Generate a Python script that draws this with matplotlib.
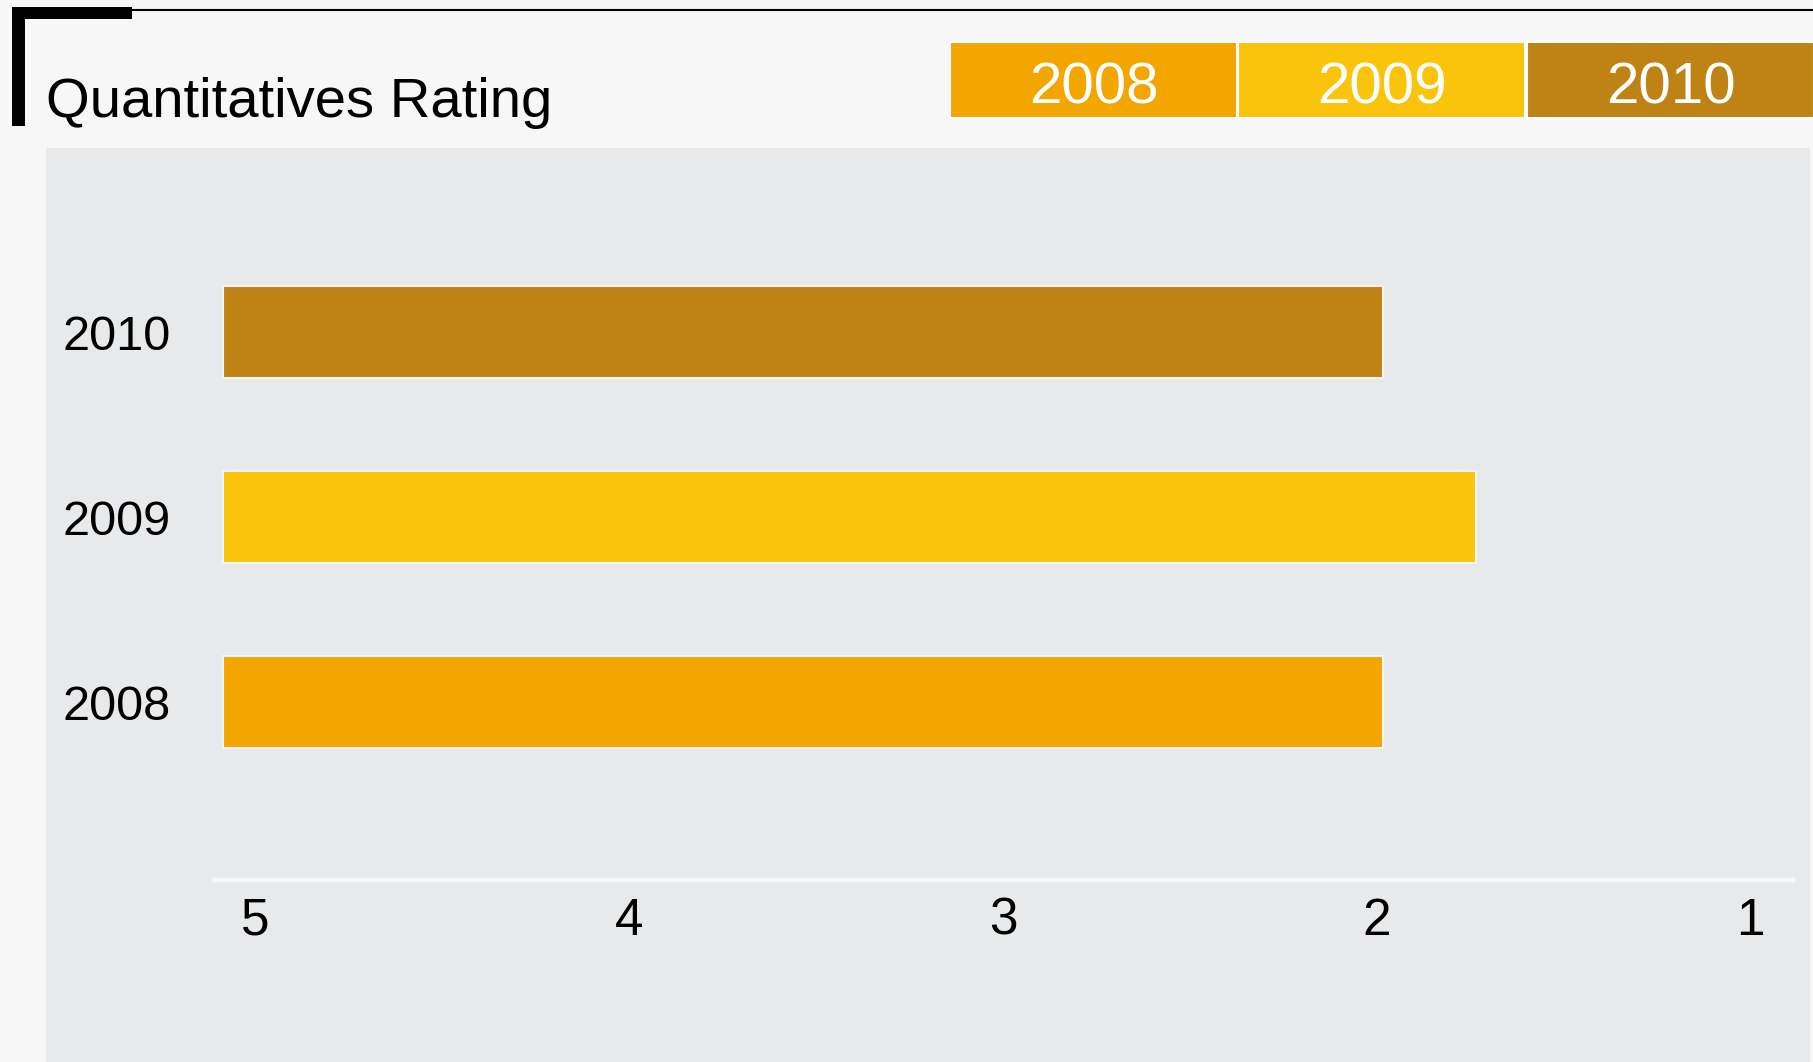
import matplotlib.pyplot as plt
import matplotlib.transforms as mtransforms
from matplotlib.patches import Rectangle
from matplotlib.lines import Line2D

years = ["2008", "2009", "2010"]
ratings = [2.0, 1.75, 2.0]
colors = ["#F3A600", "#FAC40C", "#BF8215"]
tick_values = [5, 4, 3, 2, 1]

plt.rcParams["font.family"] = ["Liberation Sans", "DejaVu Sans"]

W, H = 1813, 1062
fig = plt.figure(figsize=(W / 100, H / 100), dpi=100)
fig.patch.set_facecolor("#f7f7f7")

# grey panel behind the plot
fig.add_artist(Rectangle((46 / W, 0), (1810 - 46) / W, 1 - 148 / H,
                         transform=fig.transFigure, facecolor="#e8e9eb",
                         edgecolor="none", zorder=0))

# header decoration
fig.add_artist(Line2D([130 / W, 1], [1 - 10 / H] * 2, color="black", lw=1.5,
                      transform=fig.transFigure))
fig.add_artist(Rectangle((12 / W, 1 - 19 / H), (132 - 12) / W, 12.5 / H,
                         transform=fig.transFigure, facecolor="black", edgecolor="none"))
fig.add_artist(Rectangle((12 / W, 1 - 126 / H), 12.5 / W, (126 - 7) / H,
                         transform=fig.transFigure, facecolor="black", edgecolor="none"))

fig.text(46 / W, 1 - 117 / H, "Quantitatives Rating", fontsize=40.5,
         va="baseline", ha="left", color="black")

# legend boxes
box_left = [950, 1238, 1527]
box_w = 287
for x0, yr, c in zip(box_left, years, colors):
    fig.add_artist(Rectangle((x0 / W, 1 - 118 / H), box_w / W, 76 / H,
                             transform=fig.transFigure, facecolor=c,
                             edgecolor="white", lw=1.5))
    fig.text((x0 + box_w / 2) / W, 1 - 104 / H, yr, fontsize=42, color="white",
             ha="center", va="baseline")

ax = fig.add_axes([214 / W, 1 - 880 / H, (1793 - 214) / W, (880 - 148) / H])
ax.set_facecolor("none")

base = 5.102
ypos = list(range(len(years)))
ax.barh(ypos, [base - r for r in ratings], left=ratings, height=0.5,
        color=colors, edgecolor="#f5f5f5", linewidth=1.5, zorder=3)

ax.set_xlim(5.127, 0.903)
ax.set_ylim(-0.962, 2.995)
ax.set_xticks(tick_values)
ax.set_xticklabels([str(v) for v in tick_values], fontsize=37)
ax.set_yticks(ypos)
ax.set_yticklabels(years, fontsize=35)
ax.tick_params(axis="x", length=0, pad=12)
ax.tick_params(axis="y", length=0, pad=31)

# tick labels sit a little left of their tick
shift = mtransforms.ScaledTranslation(-6 / 100, 0, fig.dpi_scale_trans)
for lab in ax.get_xticklabels():
    lab.set_transform(lab.get_transform() + shift)

for s in ["top", "right", "left"]:
    ax.spines[s].set_visible(False)
ax.spines["bottom"].set_color("#f7f7f7")
ax.spines["bottom"].set_linewidth(3.2)

fig.savefig("out.png", dpi=100, facecolor=fig.get_facecolor())
